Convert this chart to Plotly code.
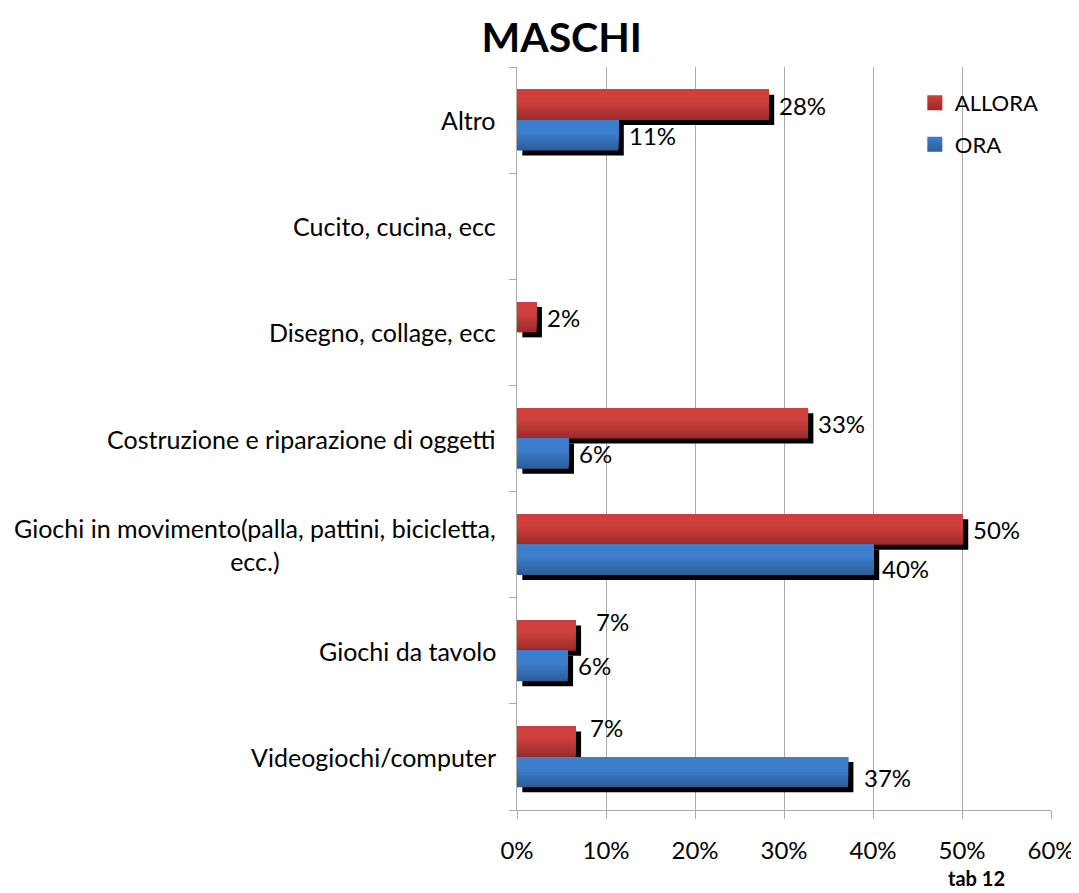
import plotly.graph_objects as go

# ---------------- data ----------------
categories = [
    "Videogiochi/computer",
    "Giochi da tavolo",
    "Giochi in movimento(palla, pattini, bicicletta, ecc.)",
    "Costruzione e riparazione di oggetti",
    "Disegno, collage, ecc",
    "Cucito, cucina, ecc",
    "Altro",
]
category_labels = [
    "Videogiochi/computer",
    "Giochi da tavolo",
    "Giochi in movimento(palla, pattini, bicicletta,<br>ecc.)",
    "Costruzione e riparazione di oggetti",
    "Disegno, collage, ecc",
    "Cucito, cucina, ecc",
    "Altro",
]
allora = [6.6, 6.6, 50.1, 32.7, 2.2, 0.0, 28.3]   # %
ora = [37.2, 5.7, 40.1, 5.8, 0.0, 0.0, 11.4]       # %
x_ticks = [0, 10, 20, 30, 40, 50, 60]

# ---------------- styling ----------------
FONT = "Lato"
BAR_W = 0.286
SHADOW_DY = 0.047      # category units
SHADOW_DX = 0.6        # percent units
N_STRIPS = 12
GRID = "#ABABAB"

series = [
    dict(name="ALLORA", values=allora, offset=0.0,
         top=(206, 64, 61), bottom=(152, 42, 42), label_dy=15),
    dict(name="ORA", values=ora, offset=-BAR_W,
         top=(61, 126, 205), bottom=(44, 92, 150), label_dy=-15),
]

# per-label nudges (px) mimicking the manual label placement of the original
label_nudge = {
    ("ALLORA", "Giochi da tavolo"): (10, 14),
    ("ALLORA", "Videogiochi/computer"): (4, 14),
    ("ORA", "Videogiochi/computer"): (6, -6),
    ("ORA", "Giochi in movimento(palla, pattini, bicicletta, ecc.)"): (-2, -9),
}


def rgb(c):
    return "rgb(%d,%d,%d)" % tuple(c)


def grad_color(s, f):
    """f: 0 at bar bottom, 1 at bar top"""
    t = min(1.0, f / 0.6)
    return rgb([round(b + (a - b) * t) for a, b in zip(s["top"], s["bottom"])])


fig = go.Figure()

# legend entries (square swatches with the bars' gradient)
for s in series:
    fig.add_trace(go.Scatter(
        x=[None], y=[None], mode="markers", name=s["name"], legendgroup=s["name"],
        marker=dict(symbol="square", size=15, color=rgb(s["top"]),
                    gradient=dict(type="vertical", color=rgb(s["bottom"])),
                    line=dict(width=0)),
        showlegend=True, hoverinfo="skip",
    ))

# shadows
for s in series:
    fig.add_trace(go.Bar(
        y=categories, x=s["values"], base=SHADOW_DX, orientation="h",
        offset=s["offset"] - SHADOW_DY, width=BAR_W,
        marker=dict(color="black", line=dict(width=0)),
        showlegend=False, hoverinfo="skip",
    ))

# gradient bars
for s in series:
    for i in range(N_STRIPS):
        frac = i / N_STRIPS
        fig.add_trace(go.Bar(
            y=categories, x=s["values"], orientation="h",
            offset=s["offset"] + frac * BAR_W,
            width=BAR_W * (1 - frac),
            marker=dict(color=grad_color(s, frac + 0.5 / N_STRIPS), line=dict(width=0)),
            name=s["name"], legendgroup=s["name"], showlegend=False,
            hovertemplate="%{y}: %{x:.0f}%<extra>" + s["name"] + "</extra>",
        ))

annotations = []
# category labels (centered multi-line like the original)
for cat, lab in zip(categories, category_labels):
    annotations.append(dict(
        x=0, y=cat, xref="x", yref="y", text=lab, showarrow=False,
        xanchor="right", yanchor="middle", align="center", xshift=-19,
        font=dict(family=FONT, size=25, color="#000000"),
    ))

# data labels
for s in series:
    for cat, v in zip(categories, s["values"]):
        if v <= 0:
            continue
        dx, dy = label_nudge.get((s["name"], cat), (0, 0))
        annotations.append(dict(
            x=v + SHADOW_DX, y=cat, xref="x", yref="y",
            text="%d%%" % round(v), showarrow=False,
            xanchor="left", yanchor="middle",
            xshift=3 + dx, yshift=s["label_dy"] + dy,
            font=dict(family=FONT, size=24, color="#000000"),
        ))

# footer note
annotations.append(dict(
    x=0.861, y=-0.0915, xref="paper", yref="paper", text="<b>tab 12</b>",
    showarrow=False, xanchor="center", yanchor="middle",
    font=dict(family=FONT, size=20, color="#000000"),
))

fig.update_layout(
    width=1071, height=885,
    template="none",
    paper_bgcolor="white", plot_bgcolor="white",
    margin=dict(l=509, r=28, t=59, b=83),
    barmode="overlay",
    title=dict(text="<b>MASCHI</b>", x=0.517, xanchor="center", y=0.966, yanchor="middle",
               font=dict(family=FONT, size=41, color="#000000")),
    font=dict(family=FONT, size=24, color="#000000"),
    xaxis=dict(
        range=[0, 60], tickvals=x_ticks, ticktext=["%d%%" % t for t in x_ticks],
        showgrid=True, gridcolor=GRID, gridwidth=1,
        showline=True, linecolor=GRID, linewidth=1,
        ticks="outside", ticklen=8, tickcolor=GRID,
        zeroline=False, ticklabelstandoff=11,
        tickfont=dict(family=FONT, size=24, color="#000000"),
        fixedrange=True,
    ),
    yaxis=dict(
        type="category", categoryorder="array", categoryarray=categories,
        range=[-0.5, 6.5], showgrid=False,
        showline=True, linecolor=GRID, linewidth=1,
        ticks="outside", ticklen=7, tickcolor=GRID, tickson="boundaries",
        showticklabels=False, zeroline=False, fixedrange=True,
    ),
    legend=dict(
        x=0.745, y=0.98, xanchor="left", yanchor="top",
        traceorder="grouped", tracegroupgap=10,
        bgcolor="rgba(255,255,255,0)",
        font=dict(family=FONT, size=22, color="#000000"),
        itemwidth=30,
    ),
    annotations=annotations,
    showlegend=True,
)

fig.write_html("out.html")
